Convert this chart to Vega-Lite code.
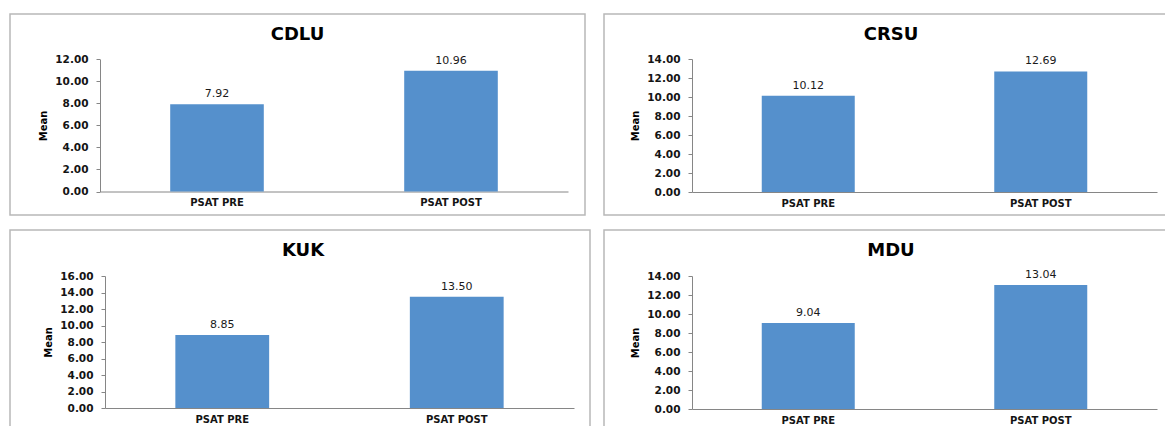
{
  "$schema": "https://vega.github.io/schema/vega-lite/v6.json",
  "padding": {"left": 9, "top": 13, "right": 0, "bottom": 0},
  "autosize": {"type": "pad"},
  "background": "white",
  "datasets": {
    "d": [
      {"panel": "CDLU", "test": "PSAT PRE", "mean": 7.92},
      {"panel": "CDLU", "test": "PSAT POST", "mean": 10.96},
      {"panel": "CRSU", "test": "PSAT PRE", "mean": 10.12},
      {"panel": "CRSU", "test": "PSAT POST", "mean": 12.69},
      {"panel": "KUK", "test": "PSAT PRE", "mean": 8.85},
      {"panel": "KUK", "test": "PSAT POST", "mean": 13.50},
      {"panel": "MDU", "test": "PSAT PRE", "mean": 9.04},
      {"panel": "MDU", "test": "PSAT POST", "mean": 13.04}
    ]
  },
  "spacing": 13,
  "vconcat": [
    {
      "spacing": 17,
      "hconcat": [
        {
          "width": 575, "height": 201,
          "title": {"text": "CDLU", "offset": -44, "baseline": "alphabetic"},
          "data": {"name": "d"},
          "transform": [{"filter": "datum.panel === 'CDLU'"}],
          "encoding": {
            "x": {"field": "test", "type": "nominal", "sort": ["PSAT PRE", "PSAT POST"],
                  "scale": {"range": [90, 558], "paddingInner": 0.6, "paddingOuter": 0.3},
                  "axis": {"offset": -23.5, "title": null}},
            "y": {"field": "mean", "type": "quantitative",
                  "scale": {"domain": [0, 12], "range": [177.5, 45.3], "nice": false},
                  "axis": {"offset": -90, "values": [0, 2, 4, 6, 8, 10, 12], "title": "Mean"}}
          },
          "layer": [
            {"mark": {"type": "bar", "color": "#5590cc"}},
            {"mark": {"type": "text", "dy": -10, "baseline": "middle"},
             "encoding": {"text": {"field": "mean", "type": "quantitative", "format": ".2f"}}}
          ]
        },
        {
          "width": 564, "height": 201,
          "title": {"text": "CRSU", "offset": -44, "baseline": "alphabetic", "dx": 5},
          "data": {"name": "d"},
          "transform": [{"filter": "datum.panel === 'CRSU'"}],
          "encoding": {
            "x": {"field": "test", "type": "nominal", "sort": ["PSAT PRE", "PSAT POST"],
                  "scale": {"range": [88, 553], "paddingInner": 0.6, "paddingOuter": 0.3},
                  "axis": {"offset": -23, "title": null}},
            "y": {"field": "mean", "type": "quantitative",
                  "scale": {"domain": [0, 14], "range": [178, 45], "nice": false},
                  "axis": {"offset": -88, "values": [0, 2, 4, 6, 8, 10, 12, 14], "title": "Mean"}}
          },
          "layer": [
            {"mark": {"type": "bar", "color": "#5590cc"}},
            {"mark": {"type": "text", "dy": -10, "baseline": "middle"},
             "encoding": {"text": {"field": "mean", "type": "quantitative", "format": ".2f"}}}
          ]
        }
      ]
    },
    {
      "spacing": 12,
      "hconcat": [
        {
          "width": 580, "height": 199,
          "title": {"text": "KUK", "offset": -44, "baseline": "alphabetic", "dx": 3},
          "data": {"name": "d"},
          "transform": [{"filter": "datum.panel === 'KUK'"}],
          "encoding": {
            "x": {"field": "test", "type": "nominal", "sort": ["PSAT PRE", "PSAT POST"],
                  "scale": {"range": [95, 564], "paddingInner": 0.6, "paddingOuter": 0.3},
                  "axis": {"offset": -21, "title": null}},
            "y": {"field": "mean", "type": "quantitative",
                  "scale": {"domain": [0, 16], "range": [178, 46], "nice": false},
                  "axis": {"offset": -95, "values": [0, 2, 4, 6, 8, 10, 12, 14, 16], "title": "Mean"}}
          },
          "layer": [
            {"mark": {"type": "bar", "color": "#5590cc"}},
            {"mark": {"type": "text", "dy": -10, "baseline": "middle"},
             "encoding": {"text": {"field": "mean", "type": "quantitative", "format": ".2f"}}}
          ]
        },
        {
          "width": 564, "height": 199,
          "title": {"text": "MDU", "offset": -44, "baseline": "alphabetic", "dx": 5},
          "data": {"name": "d"},
          "transform": [{"filter": "datum.panel === 'MDU'"}],
          "encoding": {
            "x": {"field": "test", "type": "nominal", "sort": ["PSAT PRE", "PSAT POST"],
                  "scale": {"range": [88, 553], "paddingInner": 0.6, "paddingOuter": 0.3},
                  "axis": {"offset": -20, "title": null}},
            "y": {"field": "mean", "type": "quantitative",
                  "scale": {"domain": [0, 14], "range": [179, 46], "nice": false},
                  "axis": {"offset": -88, "values": [0, 2, 4, 6, 8, 10, 12, 14], "title": "Mean"}}
          },
          "layer": [
            {"mark": {"type": "bar", "color": "#5590cc"}},
            {"mark": {"type": "text", "dy": -10, "baseline": "middle"},
             "encoding": {"text": {"field": "mean", "type": "quantitative", "format": ".2f"}}}
          ]
        }
      ]
    }
  ],
  "config": {
    "font": "DejaVu Sans",
    "view": {"stroke": "#b8b8b8", "strokeWidth": 1.5},
    "title": {"font": "DejaVu Sans", "fontSize": 18, "fontWeight": "bold", "color": "#000000", "anchor": "middle"},
    "text": {"font": "DejaVu Sans", "fontSize": 11, "color": "#1a1a1a"},
    "axis": {"grid": false, "domainColor": "#868686", "domainWidth": 1, "tickColor": "#868686",
             "labelFont": "DejaVu Sans", "labelFontWeight": "bold", "labelColor": "#141414",
             "titleFont": "DejaVu Sans", "titleFontWeight": "bold", "titleColor": "#000000", "titleFontSize": 10},
    "axisX": {"ticks": false, "labelFontSize": 10, "labelPadding": 6, "labelAngle": 0},
    "axisY": {"tickSize": 4, "labelFontSize": 10.5, "labelPadding": 8, "titlePadding": 6, "format": ".2f"}
  }
}
